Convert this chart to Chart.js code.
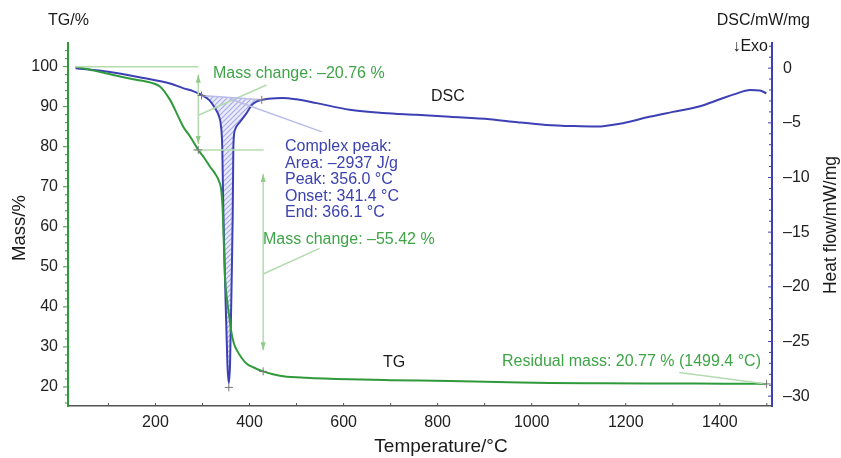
<!DOCTYPE html>
<html>
<head>
<meta charset="utf-8">
<script src="https://cdn.jsdelivr.net/npm/chart.js@4.4.0/dist/chart.umd.min.js"></script>
<style>
  html, body { margin: 0; padding: 0; background: #fff; }
</style>
</head>
<body>
<canvas id="tgdsc" width="841" height="458"></canvas>
<script>
// TG curve : temperature (°C) / mass (%)
let tg_temp = [30, 70, 110, 150, 190, 210, 231, 245, 259, 274, 291, 305, 316, 326, 334, 340, 343, 345, 348, 352, 357, 362, 367, 373, 383, 394, 410, 429, 450, 472, 520, 613, 700, 826, 950, 1038, 1150, 1250, 1350, 1450, 1499.4];
let tg_mass = [100, 99.0, 97.9, 96.9, 96.0, 95.0, 91.7, 88.4, 85.0, 82.5, 79.2, 77.0, 75.0, 73.4, 71.7, 69.0, 64.0, 57.0, 47.0, 42.0, 37.5, 33.3, 30.8, 29.2, 27.3, 25.8, 24.8, 23.9, 23.2, 22.7, 22.3, 21.9, 21.7, 21.5, 21.2, 21.0, 20.95, 20.9, 20.85, 20.8, 20.77];

// DSC curve : temperature (°C) / heat flow (mW/mg)
let dsc_temp = [30, 100, 175, 231, 260, 280, 298, 315, 327, 335, 339, 342, 344.4, 348, 352.9, 356, 358.6, 362, 364.3, 365.6, 369, 380, 394, 405, 415, 426, 440, 470, 500, 543, 613, 684, 755, 826, 911, 970, 1031, 1090, 1137, 1194, 1250, 1300, 1356, 1400, 1430, 1465, 1485, 1499];
let dsc_heat = [0, -0.33, -0.9, -1.4, -1.85, -2.1, -2.44, -2.95, -3.7, -4.4, -5.2, -7.2, -13.3, -19.4, -27, -28.8, -27, -19.4, -13.3, -7.2, -5.65, -4.9, -4.1, -3.36, -3.05, -2.9, -2.8, -2.72, -2.85, -3.2, -3.8, -4.1, -4.27, -4.45, -4.67, -4.95, -5.19, -5.3, -5.34, -5.03, -4.45, -4.0, -3.5, -2.85, -2.4, -2.0, -2.05, -2.3];

// tick labels
let x_ticks = [200, 400, 600, 800, 1000, 1200, 1400];
let mass_ticks = [20, 30, 40, 50, 60, 70, 80, 90, 100];
let heat_ticks = [0, -5, -10, -15, -20, -25, -30];

// DSC peak integration baseline (°C, mW/mg)
let peak_base_temp = [298, 426];
let peak_base_heat = [-2.5, -2.9];
let peak_text = ['Complex peak:', 'Area: –2937 J/g', 'Peak: 356.0 °C', 'Onset: 341.4 °C', 'End: 366.1 °C'];

// mass steps
let step1_temp = 291;     // first step marker
let step1_mass = [100, 79.2];
let step2_temp = 429;
let step2_mass = [79.2, 23.9];
let residual = [1499.4, 20.77];

const FONT = '"Liberation Sans", Arial, sans-serif';
const GREEN = '#2f9a3b';
const GREEN_TXT = '#3fa447';
const GREEN_LT = '#b3dcae';
const BLUE = '#3c40b4';
const BLUE_TXT = '#3c42b0';
const BLUE_LT = '#b9bce9';

function xy(xs, ys) {
  return xs.map((v, i) => ({ x: v, y: ys[i] }));
}

function seg(ctx, x1, y1, x2, y2) {
  ctx.beginPath();
  ctx.moveTo(x1, y1);
  ctx.lineTo(x2, y2);
  ctx.stroke();
}

function head(ctx, x, y, dir) {
  // dir = 1 points down, -1 points up
  ctx.beginPath();
  ctx.moveTo(x - 2.5, y - dir * 8);
  ctx.lineTo(x, y);
  ctx.lineTo(x + 2.5, y - dir * 8);
  ctx.closePath();
  ctx.fill();
}

function cross(ctx, x, y) {
  ctx.save();
  ctx.strokeStyle = '#777';
  ctx.lineWidth = 1;
  seg(ctx, x - 4, y, x + 4, y);
  seg(ctx, x, y - 4, x, y + 4);
  ctx.restore();
}

// hatched peak area between DSC curve and baseline
const hatchPlugin = {
  id: 'hatch',
  beforeDatasetsDraw(chart) {
    const ctx = chart.ctx;
    const sx = chart.scales.x, sy = chart.scales.y2;
    let pc = document.createElement('canvas');
    pc.width = 5; pc.height = 5;
    let p = pc.getContext('2d');
    p.fillStyle = 'rgba(235,236,250,1)';
    p.fillRect(0, 0, 5, 5);
    p.strokeStyle = '#a7abe6';
    p.lineWidth = 1.2;
    p.beginPath();
    p.moveTo(0, 5); p.lineTo(5, 0);
    p.moveTo(-2.5, 2.5); p.lineTo(2.5, -2.5);
    p.moveTo(2.5, 7.5); p.lineTo(7.5, 2.5);
    p.stroke();
    ctx.save();
    ctx.fillStyle = ctx.createPattern(pc, 'repeat');
    ctx.beginPath();
    ctx.moveTo(sx.getPixelForValue(peak_base_temp[0]), sy.getPixelForValue(peak_base_heat[0]));
    for (let i = 0; i < dsc_temp.length; i++) {
      if (dsc_temp[i] > peak_base_temp[0] && dsc_temp[i] < peak_base_temp[1]) {
        ctx.lineTo(sx.getPixelForValue(dsc_temp[i]), sy.getPixelForValue(dsc_heat[i]));
      }
    }
    ctx.lineTo(sx.getPixelForValue(peak_base_temp[1]), sy.getPixelForValue(peak_base_heat[1]));
    ctx.closePath();
    ctx.fill();
    ctx.restore();
  }
};

// axis ticks, annotations and titles
const decorPlugin = {
  id: 'decor',
  afterDraw(chart) {
    const ctx = chart.ctx;
    const sx = chart.scales.x, sy = chart.scales.y, s2 = chart.scales.y2;
    const area = chart.chartArea;
    ctx.save();

    // minor / major ticks
    ctx.lineWidth = 1;
    ctx.strokeStyle = GREEN;
    for (let m = 16; m <= 104; m += 2) {
      let y = sy.getPixelForValue(m);
      seg(ctx, area.left - (m % 10 == 0 ? 5 : 3), y, area.left, y);
    }
    ctx.strokeStyle = BLUE;
    for (let h = -30; h <= 2; h += 1) {
      let y = s2.getPixelForValue(h);
      seg(ctx, area.right - (h % 5 == 0 ? 4 : 3), y, area.right, y);
    }
    ctx.strokeStyle = '#555';
    for (let t = 100; t <= 1500; t += 100) {
      let x = sx.getPixelForValue(t);
      seg(ctx, x, area.bottom, x, area.bottom - 3);
    }

    // first mass step
    ctx.strokeStyle = GREEN_LT;
    ctx.fillStyle = '#8fcc88';
    ctx.lineWidth = 1.5;
    let x1 = sx.getPixelForValue(step1_temp);
    seg(ctx, sx.getPixelForValue(tg_temp[0]), sy.getPixelForValue(step1_mass[0]), x1, sy.getPixelForValue(step1_mass[0]));
    seg(ctx, sx.getPixelForValue(280), sy.getPixelForValue(step1_mass[1]), sx.getPixelForValue(430), sy.getPixelForValue(step1_mass[1]));
    let a1 = sy.getPixelForValue(step1_mass[0]) + 8, b1 = sy.getPixelForValue(step1_mass[1]) - 6;
    seg(ctx, x1, a1, x1, b1);
    head(ctx, x1, a1, -1);
    head(ctx, x1, b1, 1);
    seg(ctx, x1, (a1 + b1) / 2 + 6, sx.getPixelForValue(436), sy.getPixelForValue(95.4));

    // second mass step
    let x2 = sx.getPixelForValue(step2_temp);
    let a2 = sy.getPixelForValue(step2_mass[0]) + 24, b2 = sy.getPixelForValue(29.2);
    seg(ctx, x2, a2, x2, b2);
    head(ctx, x2, a2, -1);
    head(ctx, x2, b2, 1);
    seg(ctx, x2, sy.getPixelForValue(48.2), sx.getPixelForValue(549), sy.getPixelForValue(54.6));

    // residual leader
    seg(ctx, sx.getPixelForValue(1314), sy.getPixelForValue(23.6), sx.getPixelForValue(residual[0]), sy.getPixelForValue(residual[1]));

    // DSC baseline and leader
    ctx.strokeStyle = BLUE_LT;
    ctx.lineWidth = 1.5;
    seg(ctx, sx.getPixelForValue(peak_base_temp[0]), s2.getPixelForValue(peak_base_heat[0]),
      sx.getPixelForValue(peak_base_temp[1]), s2.getPixelForValue(peak_base_heat[1]));
    seg(ctx, sx.getPixelForValue(358), s2.getPixelForValue(-2.8), sx.getPixelForValue(554), s2.getPixelForValue(-5.83));

    // crosses
    cross(ctx, x1, sy.getPixelForValue(step1_mass[1]));
    cross(ctx, x2, sy.getPixelForValue(step2_mass[1]));
    cross(ctx, sx.getPixelForValue(residual[0]), sy.getPixelForValue(residual[1]));
    cross(ctx, sx.getPixelForValue(356), s2.getPixelForValue(-29.2));
    cross(ctx, sx.getPixelForValue(peak_base_temp[0]), s2.getPixelForValue(peak_base_heat[0]));
    cross(ctx, sx.getPixelForValue(peak_base_temp[1]), s2.getPixelForValue(peak_base_heat[1]));

    // texts
    ctx.font = '16px ' + FONT;
    ctx.textBaseline = 'middle';
    ctx.textAlign = 'left';
    ctx.fillStyle = GREEN_TXT;
    ctx.fillText('Mass change: –20.76 %', 213, 74);
    ctx.fillText('Mass change: –55.42 %', 263, 240);
    ctx.fillText('Residual mass: 20.77 % (1499.4 °C)', 502, 362);
    ctx.fillStyle = BLUE_TXT;
    peak_text.forEach((t, i) => ctx.fillText(t, 285, 147 + i * 16.4));
    ctx.fillStyle = '#1a1a1a';
    ctx.fillText('DSC', 431, 97);
    ctx.fillText('TG', 383, 363);
    ctx.fillText('TG/%', 48, 21);
    ctx.textAlign = 'right';
    ctx.fillText('DSC/mW/mg', 810, 21);
    ctx.fillText('↓Exo', 768, 47);

    ctx.textAlign = 'center';
    ctx.font = '19px ' + FONT;
    ctx.fillText('Temperature/°C', 441, 447);
    ctx.save();
    ctx.font = '18.5px ' + FONT;
    ctx.translate(20, 228);
    ctx.rotate(-Math.PI / 2);
    ctx.fillText('Mass/%', 0, 0);
    ctx.restore();
    ctx.save();
    ctx.font = '17.5px ' + FONT;
    ctx.translate(831, 225);
    ctx.rotate(-Math.PI / 2);
    ctx.fillText('Heat flow/mW/mg', 0, 0);
    ctx.restore();

    ctx.restore();
  }
};

function setTicks(list) {
  return function(scale) {
    scale.ticks = list.map(v => ({ value: v }));
  };
}

new Chart(document.getElementById('tgdsc').getContext('2d'), {
  type: 'line',
  data: {
    datasets: [
      {
        label: 'TG',
        data: xy(tg_temp, tg_mass),
        yAxisID: 'y',
        borderColor: GREEN,
        borderWidth: 2,
        pointRadius: 0,
        cubicInterpolationMode: 'monotone',
        fill: false
      },
      {
        label: 'DSC',
        data: xy(dsc_temp, dsc_heat),
        yAxisID: 'y2',
        borderColor: BLUE,
        borderWidth: 2,
        pointRadius: 0,
        cubicInterpolationMode: 'monotone',
        fill: false
      }
    ]
  },
  options: {
    responsive: false,
    animation: false,
    layout: { padding: { top: 43, left: 0, right: 0, bottom: 0 } },
    plugins: {
      legend: { display: false },
      tooltip: { enabled: false }
    },
    scales: {
      x: {
        type: 'linear',
        min: 14,
        max: 1511,
        afterBuildTicks: setTicks(x_ticks),
        afterFit: function(scale) { scale.height = 52; },
        grid: { display: false, drawTicks: false },
        border: { display: true, color: '#555', width: 1.5 },
        ticks: {
          font: { family: FONT, size: 16 },
          color: '#222',
          padding: 7,
          maxRotation: 0,
          callback: function(v) { return '' + v; }
        }
      },
      y: {
        type: 'linear',
        position: 'left',
        min: 15.25,
        max: 105.9,
        afterBuildTicks: setTicks(mass_ticks),
        afterFit: function(scale) { scale.width = 68; },
        grid: { display: false, drawTicks: false },
        border: { display: true, color: GREEN, width: 2 },
        ticks: { font: { family: FONT, size: 16 }, color: '#222', padding: 10 }
      },
      y2: {
        type: 'linear',
        position: 'right',
        min: -30.9,
        max: 2.3,
        afterBuildTicks: setTicks(heat_ticks),
        afterFit: function(scale) { scale.width = 69; },
        grid: { display: false, drawTicks: false },
        border: { display: true, color: BLUE, width: 2 },
        ticks: {
          font: { family: FONT, size: 16 },
          color: '#222',
          padding: 11,
          callback: function(v) { return v < 0 ? '–' + Math.abs(v) : '' + v; }
        }
      }
    }
  },
  plugins: [hatchPlugin, decorPlugin]
});
</script>
</body>
</html>
